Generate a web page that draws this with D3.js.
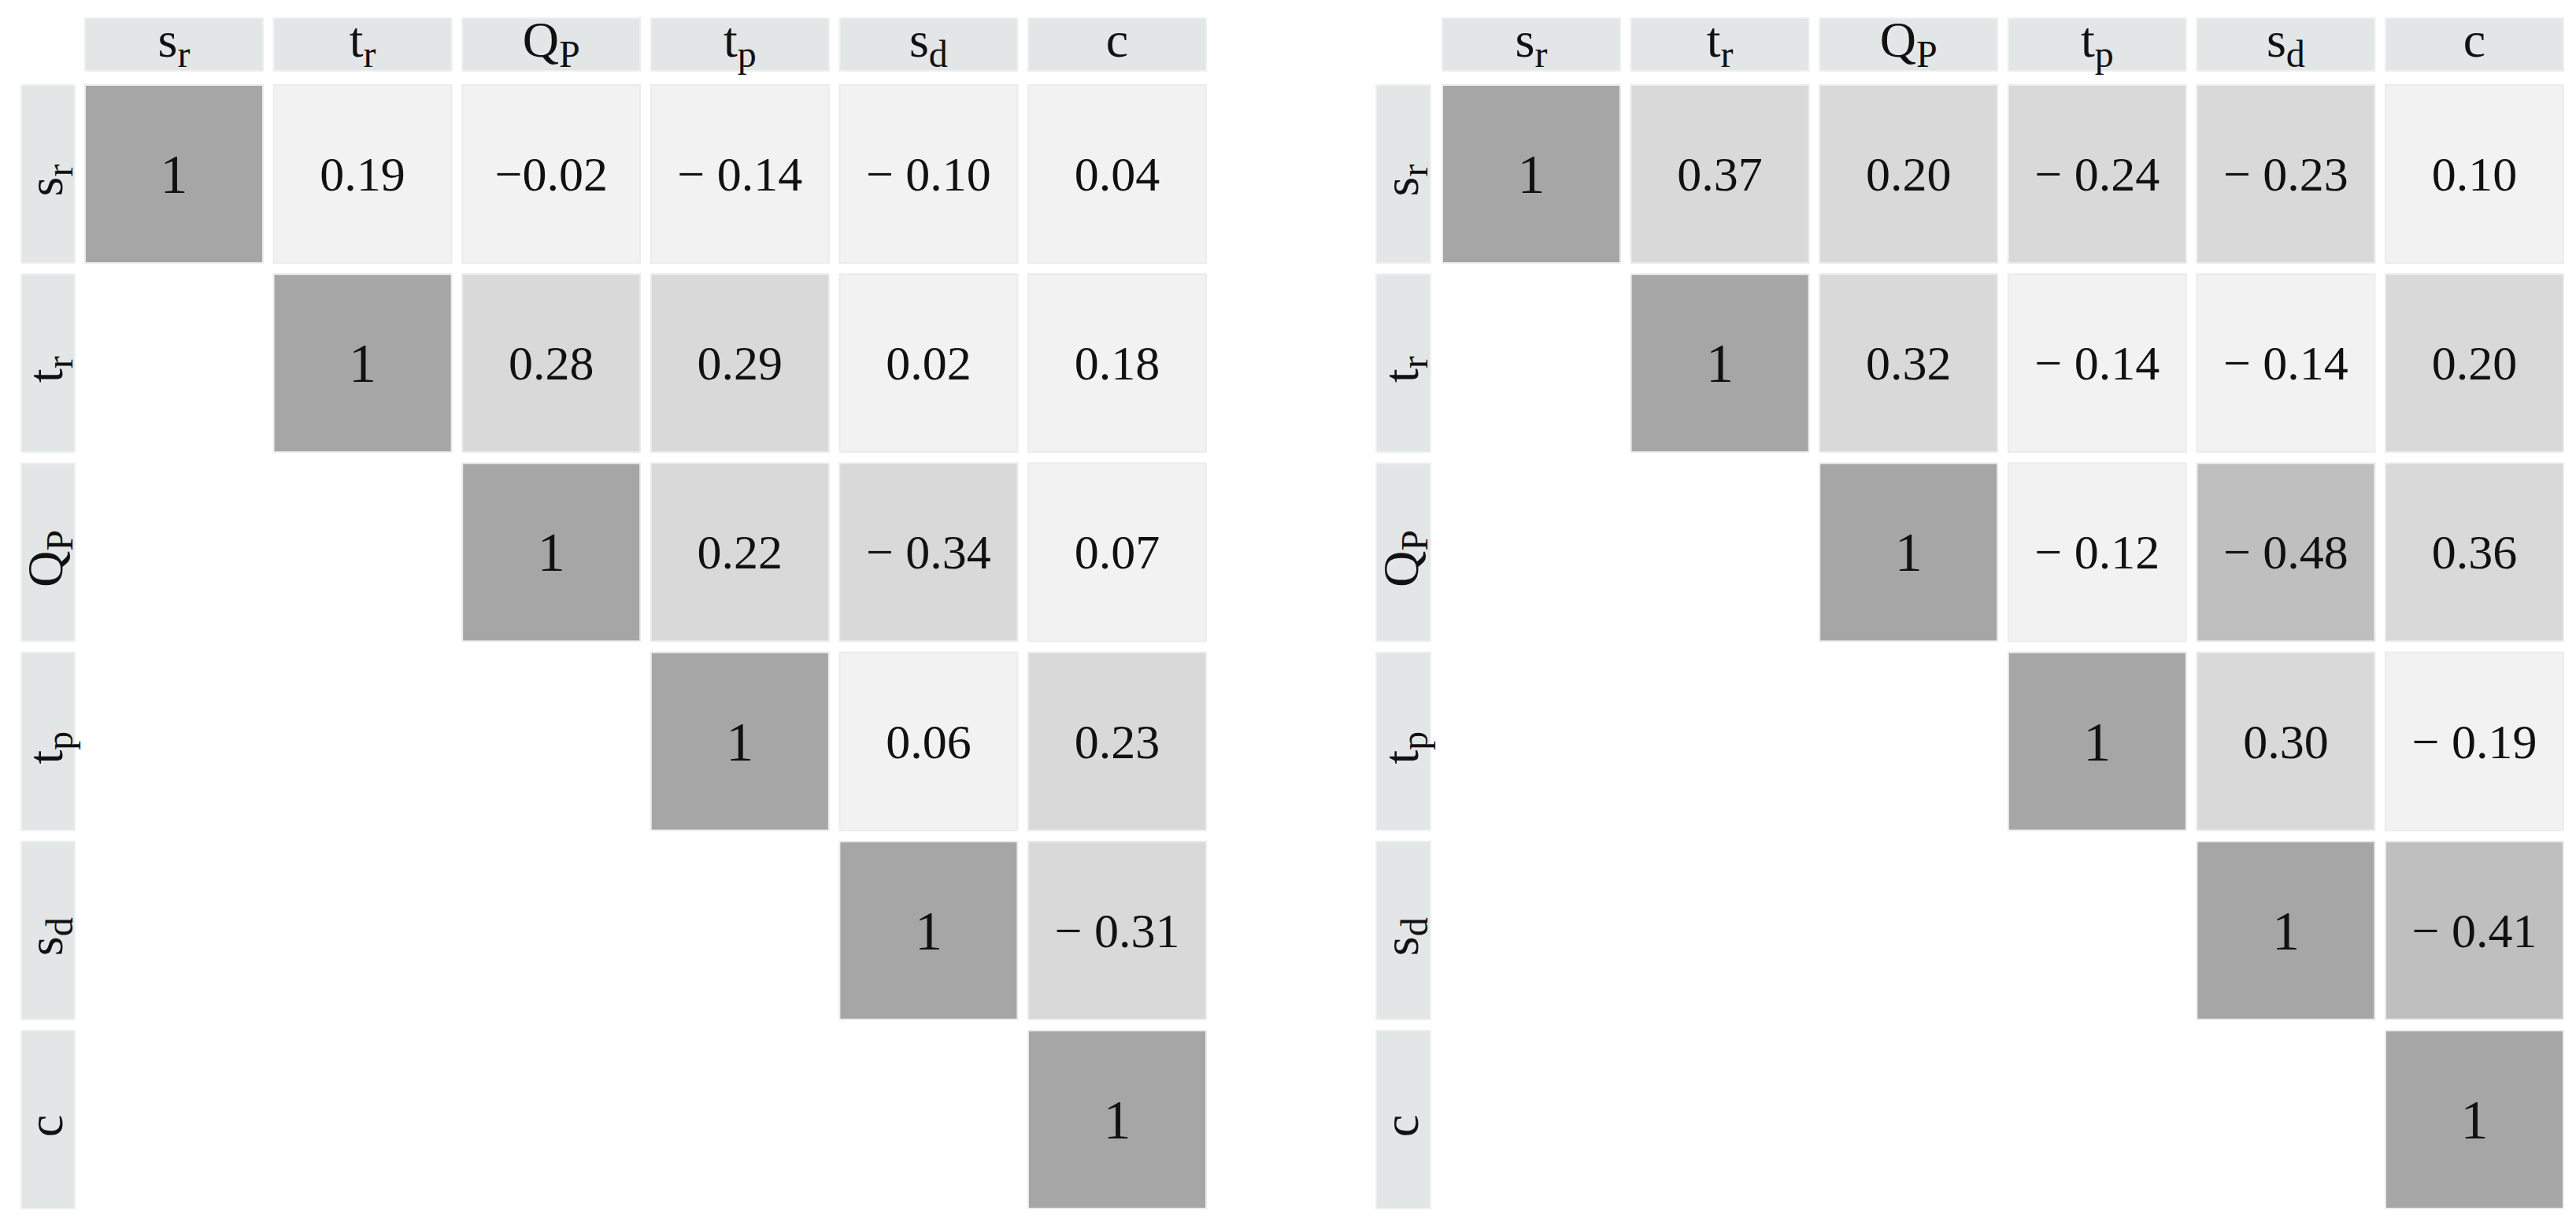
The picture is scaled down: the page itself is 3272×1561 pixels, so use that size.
<!DOCTYPE html>
<html>
<head>
<meta charset="utf-8">
<script src="https://cdn.jsdelivr.net/npm/d3@7"></script>
<style>
  html, body { margin: 0; padding: 0; background: #ffffff; }
  svg { display: block; }
</style>
</head>
<body>
<script>
// ---- data ----
const varIds  = ["sr", "tr", "QP", "tp", "sd", "c"];
const varBase = ["s", "t", "Q", "t", "s", "c"];
const varSub  = ["r", "r", "P", "p", "d", ""];

// upper-triangle rows (row i starts at column i)
const leftRows = [
  [1, 0.19, -0.02, -0.14, -0.10, 0.04],
  [1, 0.28, 0.29, 0.02, 0.18],
  [1, 0.22, -0.34, 0.07],
  [1, 0.06, 0.23],
  [1, -0.31],
  [1]
];
const rightRows = [
  [1, 0.37, 0.20, -0.24, -0.23, 0.10],
  [1, 0.32, -0.14, -0.14, 0.20],
  [1, -0.12, -0.48, 0.36],
  [1, 0.30, -0.19],
  [1, -0.41],
  [1]
];
// cells whose minus sign is printed without a space  [row, col]
const leftTightMinus = [[0, 2]];
const rightTightMinus = [];

// ---- drawing ----
const W = 3272, H = 1561;
const svg = d3.select("body").append("svg").attr("width", W).attr("height", H);

const shade = d3.scaleThreshold()
  .domain([0.2, 0.4, 0.999])
  .range(["#f2f2f2", "#d9d9d9", "#bfbfbf", "#a6a6a6"]);

const y = d3.scaleBand().domain(varIds).range([108, 1535]).paddingInner(0.059).paddingOuter(0);

function fmt(v, tight) {
  if (v === 1) return "1";
  const a = Math.abs(v).toFixed(2);
  if (v < 0) return (tight ? "\u2212" : "\u2212 ") + a;
  return a;
}

function addLabel(sel, i, size) {
  sel.append("tspan").text(varBase[i]);
  if (varSub[i]) {
    sel.append("tspan").attr("font-size", size * 0.75).attr("dy", size * 0.2).text(varSub[i]);
  }
}

function panel(rows, tight, x0, labX0, labX1) {
  const g = svg.append("g");
  const x = d3.scaleBand().domain(varIds).range([x0, x0 + 1424]).paddingInner(0.0568).paddingOuter(0);
  const hdrSize = 64;

  // column headers
  varIds.forEach((id, i) => {
    g.append("rect")
      .attr("x", x(id)).attr("y", 23).attr("width", x.bandwidth()).attr("height", 67)
      .attr("fill", "#e3e6e6").attr("stroke", "#eef0f0").attr("stroke-width", 2);
    const t = g.append("text")
      .attr("x", x(id) + x.bandwidth() / 2).attr("y", 72)
      .attr("text-anchor", "middle")
      .attr("font-family", "'Liberation Serif', 'DejaVu Serif', serif")
      .attr("font-size", hdrSize).attr("fill", "#111");
    addLabel(t, i, hdrSize);
  });

  // row headers (rotated)
  varIds.forEach((id, i) => {
    g.append("rect")
      .attr("x", labX0).attr("y", y(id)).attr("width", labX1 - labX0).attr("height", y.bandwidth())
      .attr("fill", "#e3e6e6").attr("stroke", "#eef0f0").attr("stroke-width", 2);
    const cx = (labX0 + labX1) / 2 + 18, cy = y(id) + y.bandwidth() / 2 + 8;
    const t = g.append("text")
      .attr("transform", `translate(${cx},${cy}) rotate(-90)`)
      .attr("text-anchor", "middle")
      .attr("font-family", "'Liberation Serif', 'DejaVu Serif', serif")
      .attr("font-size", hdrSize).attr("fill", "#111");
    addLabel(t, i, hdrSize);
  });

  // cells
  const cells = [];
  rows.forEach((r, i) => r.forEach((v, k) => {
    const j = i + k;
    const isTight = tight.some(p => p[0] === i && p[1] === j);
    cells.push({ row: varIds[i], col: varIds[j], v, label: fmt(v, isTight) });
  }));

  g.selectAll("rect.cell").data(cells).join("rect")
    .attr("class", "cell")
    .attr("x", d => x(d.col)).attr("y", d => y(d.row))
    .attr("width", x.bandwidth()).attr("height", y.bandwidth())
    .attr("fill", d => shade(Math.abs(d.v)))
    .attr("stroke", "#ececec").attr("stroke-width", 2);

  g.selectAll("text.val").data(cells).join("text")
    .attr("class", "val")
    .attr("x", d => x(d.col) + x.bandwidth() / 2)
    .attr("y", d => y(d.row) + y.bandwidth() / 2 + (d.v === 1 ? 24 : 21))
    .attr("text-anchor", "middle")
    .attr("font-family", "'Liberation Serif', 'DejaVu Serif', serif")
    .attr("font-size", d => d.v === 1 ? 70 : 62)
    .attr("fill", "#111")
    .text(d => d.label);
}

panel(leftRows, leftTightMinus, 108, 27, 95);
panel(rightRows, rightTightMinus, 1832, 1748, 1817);
</script>
</body>
</html>
